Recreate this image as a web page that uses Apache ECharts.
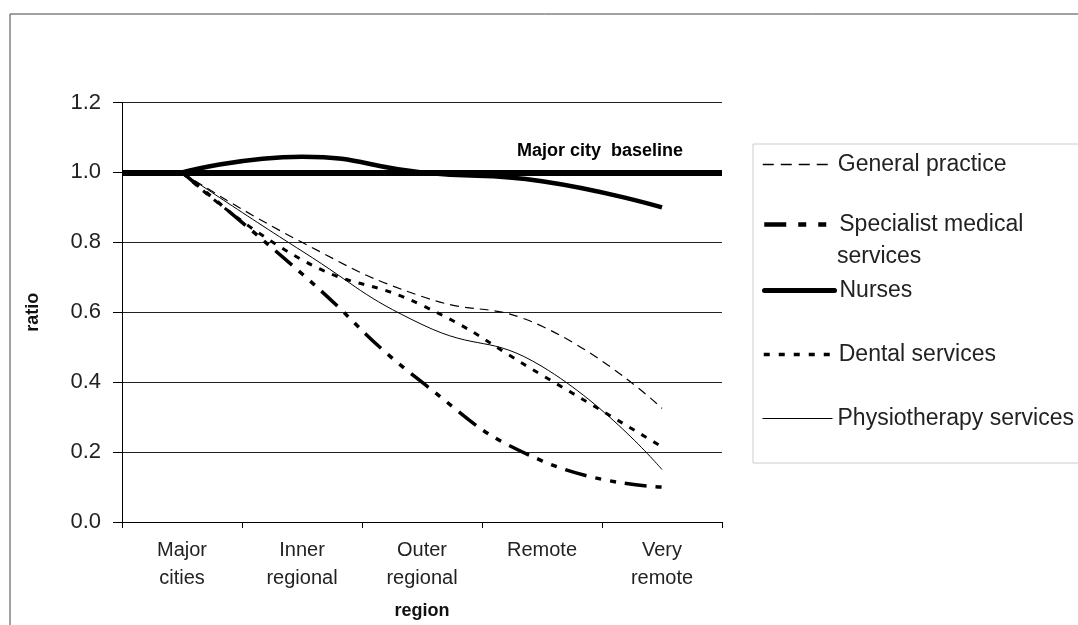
<!DOCTYPE html>
<html><head><meta charset="utf-8">
<script src="https://cdn.jsdelivr.net/npm/echarts@6/dist/echarts.min.js"></script>
<style>html,body{margin:0;padding:0;background:#fff}#c{width:1078px;height:625px}</style>
</head><body><div id="c"></div>
<script>
const categories = ['Major\ncities', 'Inner\nregional', 'Outer\nregional', 'Remote', 'Very\nremote'];
const generalPractice = [1.0, 0.80, 0.645, 0.56, 0.325];
const specialist = [1.0, 0.71, 0.40, 0.175, 0.10];
const nurses = [1.0, 1.045, 1.0, 0.975, 0.90];
const dental = [1.0, 0.75, 0.62, 0.42, 0.215];
const physio = [1.0, 0.775, 0.565, 0.445, 0.15];
const baseline = 1.0;
const yTicks = [0, 1.2, 0.2];

const FONT = 'Liberation Sans, Arial, sans-serif';
const names = ['General practice', 'Specialist medical', 'Nurses', 'Dental services', 'Physiotherapy services'];
const seriesData = [generalPractice, specialist, nurses, dental, physio];
const plotStyles = [
  { width: 1.2, type: [9, 6] },
  { width: 3.5, type: [22, 9, 6, 9, 6, 9] },
  { width: 4.5, type: 'solid' },
  { width: 3, type: [6, 8] },
  { width: 1, type: 'solid' }
];
const legendStyles = [
  { width: 1.5, type: [11, 7] },
  { width: 4.5, type: [22, 12, 8, 12, 8, 8] },
  { width: 5, type: 'solid', cap: 'round' },
  { width: 3.5, type: [6, 9] },
  { width: 1, type: 'solid' }
];
const legendCenters = [166, 226, 292, 356, 420];

const chart = echarts.init(document.getElementById('c'));
const legends = names.map((n, i) => ({
  data: [n], left: 762, top: legendCenters[i] - 13, itemWidth: 70, itemHeight: 26,
  selectedMode: false, itemGap: 0, padding: 0,
  itemStyle: { opacity: 0 },
  lineStyle: Object.assign({ color: '#000', cap: 'butt' }, legendStyles[i]),
  textStyle: { fontFamily: FONT, fontSize: 23, color: '#222' }
}));

const series = names.map((n, i) => ({
  name: n, type: 'line', data: seriesData[i], smooth: 0.5, symbol: 'none', silent: true,
  lineStyle: Object.assign({ color: '#000', cap: 'butt' }, plotStyles[i]), itemStyle: { color: '#000' }
}));
series[2].markLine = {
  silent: true, symbol: 'none',
  lineStyle: { color: '#000', width: 6, type: 'solid' },
  label: { show: true, position: 'insideEndTop', formatter: 'Major city  baseline', distance: [39, 12],
    fontFamily: FONT, fontSize: 18, fontWeight: 'bold', color: '#000' },
  data: [{ yAxis: baseline }]
};

chart.setOption({
  animation: false,
  backgroundColor: '#fff',
  grid: { left: 122, right: 356, top: 102.5, bottom: 102 },
  legend: legends,
  graphic: [
    { type: 'rect', shape: { x: 10, y: 14, width: 1200, height: 800 }, style: { fill: 'none', stroke: '#444', lineWidth: 1 }, silent: true, z: -10 },
    { type: 'rect', shape: { x: 753, y: 144, width: 400, height: 319 }, style: { fill: 'none', stroke: '#ccc', lineWidth: 1 }, silent: true },
    { type: 'text', x: 837, y: 257, style: { text: 'services', fontFamily: FONT, fontSize: 23, fill: '#222', verticalAlign: 'middle' } }
  ],
  xAxis: {
    type: 'category', data: categories, boundaryGap: true,
    name: 'region', nameLocation: 'middle', nameGap: 80,
    nameTextStyle: { fontFamily: FONT, fontSize: 18, fontWeight: 'bold', color: '#111' },
    axisLine: { lineStyle: { color: '#000', width: 1 } },
    axisTick: { show: true, length: 6, lineStyle: { color: '#000' }, alignWithLabel: false },
    axisLabel: { fontFamily: FONT, fontSize: 20, color: '#222', lineHeight: 28, margin: 14 }
  },
  yAxis: {
    type: 'value', min: yTicks[0], max: yTicks[1], interval: yTicks[2],
    name: 'ratio', nameLocation: 'middle', nameGap: 80, nameRotate: 90,
    nameTextStyle: { fontFamily: FONT, fontSize: 18, fontWeight: 'bold', color: '#111' },
    axisLine: { show: true, lineStyle: { color: '#000', width: 1 } },
    axisTick: { show: true, length: 9, lineStyle: { color: '#000' } },
    axisLabel: { fontFamily: FONT, fontSize: 22, color: '#222', margin: 21, formatter: v => v.toFixed(1) },
    splitLine: { lineStyle: { color: '#222', width: 1 } }
  },
  series
});
</script></body></html>
